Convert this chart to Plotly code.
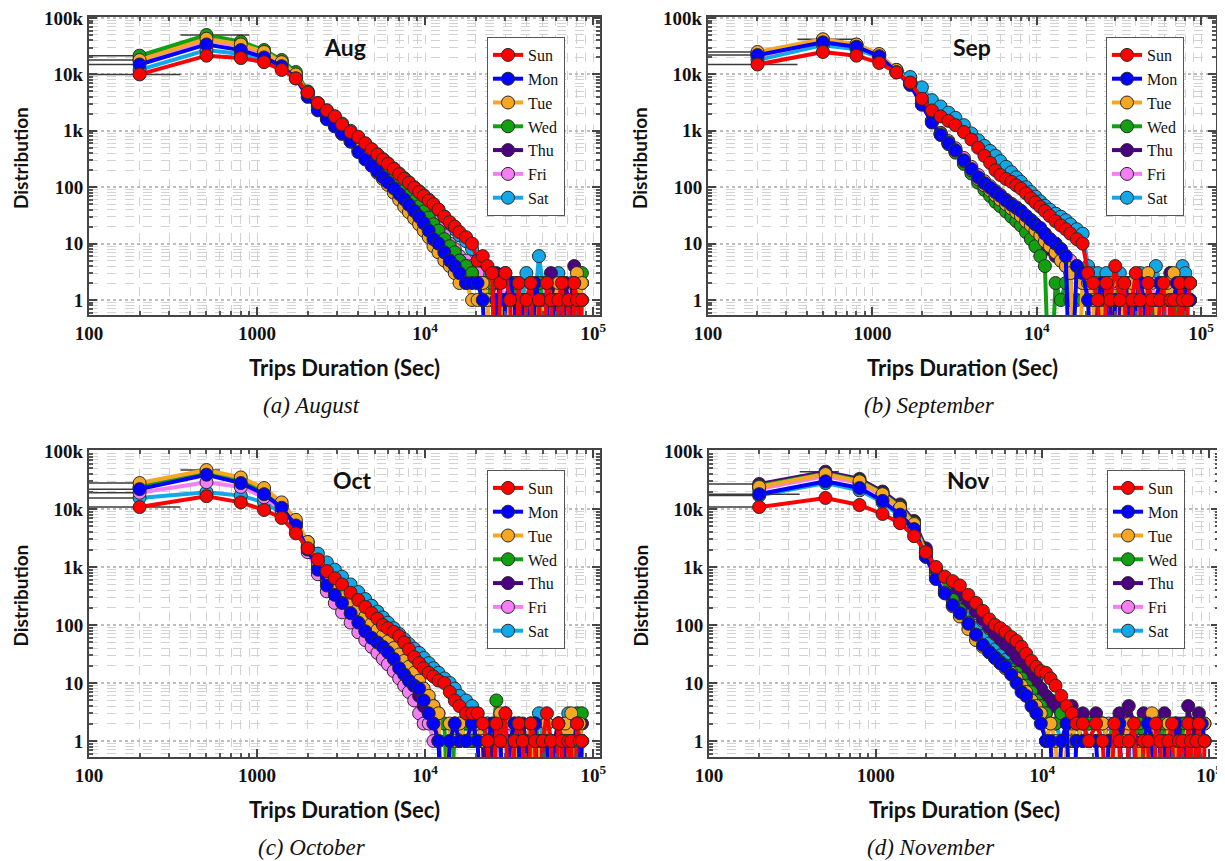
import plotly.graph_objects as go

DAYS = ["Sun", "Mon", "Tue", "Wed", "Thu", "Fri", "Sat"]
COLORS = {"Sun": "#FF0000", "Mon": "#0000FF", "Tue": "#F5A623", "Wed": "#10A010",
          "Thu": "#4B0082", "Fri": "#F57EF5", "Sat": "#12A8E8"}

# bin centres (sec)
X_MAIN = [200, 500, 800, 1100, 1400, 1700, 2000, 2300, 2600, 2900, 3200, 3600, 4000, 4400,
          4800, 5200, 5600, 6000, 6500, 7000, 7500, 8000, 8600, 9200, 9800, 10500, 11200,
          12000, 13000, 14000, 15000, 16000, 17500, 19000]
X_TAIL = [20500, 22000, 23500, 25000, 26500, 28000, 30000, 32000, 34000, 36000, 38000, 40000,
          42500, 45000, 47500, 50000, 53000, 56000, 59000, 62000, 65000, 68000, 71000, 74000,
          77000, 80000, 83000, 85500]
X_TAIL_NOV = [21000, 23000, 25000, 27000, 29000, 31000, 33000, 35500, 38000, 40500, 43000, 45500,
              48000, 51000, 54000, 57000, 60000, 63000, 66000, 69000, 72000, 75000, 78000, 81000,
              84000, 87000, 90500, 94000]

X_TICKS = [100, 1000, 10000, 100000]
X_TICK_TEXT = ["100", "1000", "10<sup>4</sup>", "10<sup>5</sup>"]
Y_TICKS = [1, 10, 100, 1000, 10000, 100000]
Y_TICK_TEXT = ["1", "10", "100", "1k", "10k", "100k"]
X_MINOR = [200, 300, 400, 500, 600, 700, 800, 900, 2000, 3000, 4000, 5000, 6000, 7000, 8000, 9000,
           20000, 30000, 40000, 50000, 60000, 70000, 80000, 90000]
Y_MINOR = [0.6, 0.7, 0.8, 0.9, 2, 3, 4, 5, 6, 7, 8, 9, 20, 30, 40, 50, 60, 70, 80, 90,
           200, 300, 400, 500, 600, 700, 800, 900, 2000, 3000, 4000, 5000, 6000, 7000, 8000, 9000,
           20000, 30000, 40000, 50000, 60000, 70000, 80000, 90000]

# ---------------- August ----------------
AUG_SUN = [10000, 21500, 19500, 16500, 12000, 8500, 4800, 3100, 2300, 1800, 1300, 950, 780, 600,
           470, 380, 310, 260, 210, 170, 140, 120, 98, 82, 70, 58, 50, 40, 30, 24, 20, 16, 13, 10,
           5, 6, 4, 3, 0, 2, 3, 1, 0, 2, 0, 1, 2, 0, 1, 0, 2, 1, 0, 1, 2, 0, 1, 0, 2, 1, 0, 1]
AUG_MON = [15000, 34000, 27000, 20000, 14000, 8500, 4000, 2300, 1600, 1200, 900, 650, 420, 310,
           240, 190, 150, 122, 96, 76, 61, 49, 38, 30, 23, 17, 12, 10, 7, 5, 4, 3, 2, 2,
           2, 1, 0, 0, 1, 0, 1, 2, 1, 0, 1, 1, 0, 2, 1, 0, 1, 0, 1, 1, 0, 1, 0, 1, 2, 0, 1, 1]
AUG_TUE = [18000, 43000, 34000, 25000, 16500, 10000, 4500, 2400, 1650, 1200, 880, 640, 470, 350,
           270, 180, 140, 110, 80, 60, 45, 36, 28, 22, 17, 13, 9, 7, 5, 4, 3, 2, 2, 1,
           1, 2, 1, 0, 1, 1, 0, 2, 1, 1, 0, 1, 2, 0, 1, 1, 0, 1, 1, 2, 0, 1, 1, 0, 1, 3, 1, 2]
AUG_WED = [21500, 50000, 38000, 27000, 18000, 11000, 5000, 2700, 1900, 1400, 1050, 780, 580, 440,
           340, 270, 215, 175, 138, 110, 88, 72, 57, 46, 37, 29, 22, 17, 12, 9, 7, 5, 4, 3,
           2, 1, 1, 2, 0, 1, 1, 1, 2, 0, 1, 1, 0, 1, 2, 1, 1, 0, 1, 1, 2, 0, 1, 1, 1, 2, 1, 3]
AUG_THU = [19000, 44000, 35000, 25000, 17000, 10000, 4700, 2600, 1800, 1350, 1000, 740, 550, 420,
           320, 250, 200, 162, 128, 102, 82, 66, 52, 42, 34, 27, 20, 15, 11, 8, 6, 5, 4, 3,
           2, 2, 1, 1, 3, 1, 0, 1, 2, 1, 1, 0, 1, 1, 2, 0, 1, 3, 1, 1, 0, 2, 1, 1, 4, 1, 1, 2]
AUG_FRI = [17000, 40000, 32000, 23000, 15500, 9500, 4600, 2700, 1900, 1450, 1100, 820, 610, 470,
           360, 285, 230, 185, 148, 118, 95, 78, 62, 50, 41, 32, 25, 19, 14, 10, 8, 6, 5, 4,
           3, 2, 2, 1, 1, 2, 1, 2, 1, 1, 0, 1, 2, 1, 1, 1, 2, 0, 1, 1, 2, 1, 1, 2, 1, 1, 3, 1]
AUG_SAT = [12000, 27000, 23000, 18500, 13000, 8800, 4900, 3100, 2300, 1800, 1350, 1000, 760, 590,
           470, 380, 315, 265, 215, 175, 145, 122, 100, 85, 72, 60, 50, 40, 30, 23, 18, 14, 11, 8,
           5, 4, 3, 3, 2, 2, 3, 2, 1, 2, 1, 3, 2, 1, 6, 2, 1, 2, 1, 3, 1, 2, 1, 1, 2, 1, 1, 2]

# ---------------- September ----------------
SEP_SUN = [15000, 25000, 21500, 16000, 10800, 7200, 3700, 2300, 1800, 1500, 1260, 950, 700, 500,
           360, 270, 200, 165, 140, 125, 108, 95, 78, 64, 54, 45, 38, 31, 25, 21, 18, 15, 12, 10,
           3, 2, 1, 0, 2, 1, 4, 1, 2, 0, 1, 3, 1, 0, 2, 1, 0, 1, 2, 0, 1, 1, 0, 2, 1, 0, 1, 2]
SEP_MON = [22000, 37000, 31000, 21000, 11000, 6500, 2900, 1400, 850, 600, 450, 300, 210, 150,
           118, 98, 82, 70, 58, 49, 43, 38, 31, 26, 22, 19, 15, 12, 10, 8, 6, 0, 4, 3,
           1, 0, 1, 2, 1, 0, 1, 1, 2, 1, 0, 1, 2, 1, 0, 1, 1, 2, 1, 0, 1, 1, 2, 1, 0, 1, 2, 1]
SEP_TUE = [25000, 42000, 34000, 23000, 12000, 7000, 3100, 1500, 900, 620, 450, 290, 200, 140,
           108, 88, 72, 60, 50, 42, 36, 31, 25, 21, 17, 14, 11, 9, 7, 5, 4, 3, 0, 2,
           2, 1, 0, 1, 1, 2, 1, 0, 1, 1, 2, 1, 0, 1, 3, 1, 1, 0, 1, 2, 1, 3, 1, 1, 0, 1, 1, 2]
SEP_WED = [23000, 40000, 33000, 22000, 11500, 6800, 3000, 1450, 850, 580, 410, 260, 175, 120,
           90, 70, 55, 46, 37, 30, 25, 21, 16, 12, 9, 6, 4, 0, 2, 1, 2, 1, 1, 1,
           1, 1, 2, 0, 1, 1, 1, 2, 1, 0, 1, 1, 2, 1, 1, 0, 1, 1, 2, 1, 1, 0, 1, 2, 1, 1, 1, 1]
SEP_THU = [24000, 41000, 33500, 22500, 11800, 6900, 3050, 1480, 880, 610, 440, 285, 195, 135,
           102, 82, 67, 56, 46, 39, 33, 28, 23, 19, 16, 13, 10, 8, 6, 5, 4, 3, 3, 2,
           2, 1, 1, 1, 2, 1, 0, 1, 1, 2, 1, 1, 1, 0, 2, 1, 1, 1, 2, 1, 3, 1, 1, 1, 2, 1, 1, 1]
SEP_FRI = [21000, 38000, 31500, 21500, 11300, 6700, 3000, 1500, 920, 660, 490, 330, 230, 165,
           128, 104, 86, 73, 60, 51, 44, 38, 31, 26, 22, 18, 15, 12, 10, 8, 6, 5, 4, 3,
           1, 2, 1, 1, 0, 1, 2, 1, 1, 1, 2, 0, 1, 1, 1, 2, 1, 1, 0, 1, 2, 1, 1, 1, 1, 2, 1, 1]
SEP_SAT = [18000, 33000, 28000, 20000, 12000, 9000, 5900, 3500, 2700, 2100, 1700, 1260, 900, 680,
           540, 440, 360, 290, 230, 185, 150, 125, 100, 82, 68, 56, 47, 40, 34, 30, 26, 22, 18, 15,
           4, 3, 3, 2, 3, 2, 2, 3, 1, 2, 2, 1, 3, 2, 2, 1, 4, 2, 1, 2, 3, 2, 1, 2, 4, 3, 1, 2]

# ---------------- October ----------------
OCT_SUN = [10800, 16600, 13000, 9600, 7000, 3800, 2100, 1350, 850, 640, 500, 360, 270, 205,
           160, 128, 100, 88, 76, 64, 50, 38, 28, 22, 18, 15, 13, 11, 10, 7, 5, 4, 3, 3,
           3, 2, 1, 0, 2, 1, 3, 0, 1, 2, 1, 0, 2, 1, 0, 1, 3, 1, 0, 2, 1, 0, 1, 1, 0, 2, 1, 1]
OCT_MON = [22000, 39000, 28000, 18000, 10500, 5200, 2000, 900, 480, 330, 240, 160, 110, 78,
           60, 50, 42, 34, 26, 18, 14, 11, 9, 8, 5, 3, 2, 1, 0, 1, 2, 1, 1, 2,
           1, 0, 1, 2, 1, 1, 0, 1, 2, 1, 0, 1, 1, 2, 0, 1, 1, 0, 1, 2, 1, 1, 0, 1, 1, 2, 0, 1]
OCT_TUE = [28000, 47000, 35000, 23000, 13000, 6500, 2700, 1200, 700, 480, 360, 260, 190, 140,
           105, 82, 65, 52, 40, 31, 24, 19, 15, 11, 8, 6, 4, 3, 0, 2, 1, 2, 1, 2,
           2, 1, 1, 0, 1, 3, 1, 1, 0, 2, 1, 1, 2, 0, 1, 1, 2, 1, 0, 1, 1, 2, 1, 3, 0, 1, 2, 1]
OCT_WED = [24000, 42000, 31000, 20000, 11500, 5800, 2300, 1050, 600, 420, 310, 220, 160, 118,
           90, 70, 56, 45, 35, 27, 21, 16, 12, 9, 7, 5, 4, 3, 2, 0, 2, 1, 2, 1,
           1, 2, 1, 1, 5, 1, 0, 1, 2, 1, 1, 0, 1, 2, 1, 1, 0, 1, 1, 2, 1, 1, 1, 0, 1, 3, 1, 3]
OCT_THU = [23000, 40000, 30000, 19500, 11000, 5600, 2200, 1000, 560, 390, 285, 200, 140, 102,
           78, 60, 47, 37, 28, 21, 16, 12, 9, 6, 4, 3, 2, 1, 0, 1, 2, 1, 1, 1,
           2, 1, 0, 1, 1, 2, 1, 1, 0, 1, 2, 1, 1, 1, 0, 1, 2, 1, 1, 0, 1, 1, 2, 1, 1, 0, 1, 2]
OCT_FRI = [19000, 29000, 24000, 16000, 9500, 4800, 1800, 750, 380, 240, 165, 110, 75, 55,
           42, 33, 26, 21, 16, 12, 9, 7, 5, 3, 2, 2, 1, 1, 0, 1, 1, 2, 1, 1,
           1, 1, 2, 1, 0, 1, 1, 2, 1, 1, 0, 1, 1, 2, 1, 0, 1, 1, 1, 2, 1, 1, 0, 1, 2, 1, 1, 2]
OCT_SAT = [15500, 19500, 17000, 13000, 8500, 4800, 2700, 1700, 1200, 900, 680, 500, 370, 280,
           215, 170, 135, 110, 88, 70, 57, 47, 39, 33, 27, 22, 18, 15, 12, 10, 8, 6, 5, 4,
           3, 2, 2, 1, 2, 1, 3, 2, 1, 2, 1, 1, 2, 1, 3, 1, 2, 1, 1, 2, 1, 2, 3, 1, 1, 2, 1, 1]

# ---------------- November ----------------
NOV_SUN = [10800, 15500, 11700, 8200, 5700, 3400, 1800, 1000, 680, 570, 480, 330, 240, 175,
           125, 100, 88, 76, 62, 53, 42, 32, 24, 19, 16, 15, 12, 9, 6, 4, 3, 2, 2, 1,
           2, 1, 0, 2, 1, 0, 1, 2, 0, 1, 1, 0, 2, 1, 0, 1, 2, 0, 1, 1, 0, 2, 1, 0, 1, 2, 0, 1]
NOV_MON = [18000, 30000, 23000, 13800, 8000, 4500, 1500, 620, 350, 220, 160, 105, 68, 45,
           34, 27, 22, 19, 14, 10, 7, 6, 4, 3, 2, 1, 1, 0, 1, 2, 0, 1, 1, 1,
           1, 0, 1, 1, 2, 0, 1, 1, 0, 1, 2, 1, 0, 1, 1, 0, 1, 2, 1, 0, 1, 1, 1, 0, 1, 1, 2, 1]
NOV_TUE = [24000, 40000, 30000, 18000, 10500, 5500, 1700, 680, 360, 210, 140, 85, 55, 42,
           34, 27, 22, 18, 15, 12, 9, 7, 5, 4, 3, 1, 2, 1, 0, 1, 2, 1, 2, 1,
           1, 2, 1, 0, 1, 1, 2, 1, 1, 0, 1, 3, 1, 1, 0, 2, 1, 1, 0, 1, 1, 2, 1, 1, 0, 1, 1, 2]
NOV_WED = [25000, 41000, 31000, 18500, 11000, 5800, 1800, 750, 420, 270, 180, 110, 68, 44,
           34, 28, 23, 20, 17, 15, 12, 9, 7, 5, 4, 3, 2, 2, 3, 2, 1, 2, 1, 2,
           2, 1, 1, 2, 1, 0, 1, 1, 2, 1, 1, 1, 0, 1, 2, 1, 1, 0, 1, 1, 2, 1, 0, 1, 1, 1, 2, 1]
NOV_THU = [27000, 44000, 33000, 20000, 12000, 6200, 2100, 900, 560, 420, 330, 240, 170, 125,
           92, 72, 58, 47, 37, 28, 22, 17, 13, 10, 8, 6, 5, 4, 3, 3, 4, 2, 3, 2,
           3, 2, 1, 2, 3, 1, 4, 2, 1, 3, 2, 1, 2, 1, 3, 2, 1, 2, 1, 2, 1, 4, 2, 1, 2, 3, 1, 2]
NOV_FRI = [22000, 37000, 28000, 17000, 10000, 5300, 1900, 850, 540, 400, 310, 225, 160, 118,
           88, 70, 57, 47, 38, 30, 24, 18, 14, 11, 8, 6, 5, 4, 3, 2, 3, 2, 2, 1,
           2, 1, 2, 1, 1, 3, 1, 2, 1, 1, 2, 1, 1, 2, 1, 1, 1, 2, 1, 1, 2, 1, 1, 1, 2, 1, 1, 1]
NOV_SAT = [17000, 28000, 21000, 13000, 7500, 4200, 1500, 650, 380, 260, 190, 130, 90, 65,
           48, 38, 30, 25, 20, 15, 12, 9, 7, 5, 4, 3, 2, 2, 1, 2, 1, 1, 2, 1,
           1, 2, 1, 1, 2, 1, 1, 0, 1, 2, 1, 1, 1, 2, 1, 0, 1, 1, 2, 1, 1, 1, 2, 1, 0, 1, 1, 1]

# horizontal error-bar spans (sec) seen on the first bin: month -> {day_index: (minus, plus)}
ERR_FIRST = {
    "Aug": {0: (150, 150), 1: (150, 0), 2: (150, 0), 3: (150, 0)},
    "Sep": {0: (150, 150), 1: (150, 0), 2: (150, 0)},
    "Oct": {0: (150, 150), 1: (150, 0), 2: (150, 0), 5: (150, 0), 6: (150, 0)},
    "Nov": {0: (150, 0), 1: (150, 150), 4: (150, 0), 6: (150, 0)},
}
# one long bar at the peak bin: (day_index, minus, plus)
ERR_PEAK = {"Aug": (3, 150, 400), "Sep": (2, 150, 300), "Oct": (2, 150, 100), "Nov": (4, 150, 100)}

MONTHS = [
    ("Aug", "(a) August", X_MAIN + X_TAIL,
     [AUG_SUN, AUG_MON, AUG_TUE, AUG_WED, AUG_THU, AUG_FRI, AUG_SAT]),
    ("Sep", "(b) September", X_MAIN + X_TAIL,
     [SEP_SUN, SEP_MON, SEP_TUE, SEP_WED, SEP_THU, SEP_FRI, SEP_SAT]),
    ("Oct", "(c) October", X_MAIN + X_TAIL,
     [OCT_SUN, OCT_MON, OCT_TUE, OCT_WED, OCT_THU, OCT_FRI, OCT_SAT]),
    ("Nov", "(d) November", X_MAIN + X_TAIL_NOV,
     [NOV_SUN, NOV_MON, NOV_TUE, NOV_WED, NOV_THU, NOV_FRI, NOV_SAT]),
]

OFF = 8  # page body margin
W, H = 1225 - OFF, 861 - OFF
ZERO_FLOOR = 0.01  # empty bins (log of 0) drawn as a drop below the axis


def px(x):
    return (x - OFF) / W


def py(y):
    return 1 - (y - OFF) / H


# panel geometry in page pixels: (left, right, top, bottom, xmax_log, ymin_log, ymax_log)
PANELS = [
    (89, 600, 17, 315, 5.04, -0.266, 5.018),
    (708, 1216, 17, 315, 5.09, -0.266, 5.018),
    (89, 600, 450, 757, 5.04, -0.276, 5.017),
    (709, 1219, 450, 757, 5.06, -0.276, 5.017),
]
TITLE_DX = [256, 264, 263, 259]

fig = go.Figure()
layout = dict(width=W, height=H, margin=dict(l=0, r=0, t=0, b=0, autoexpand=False),
              paper_bgcolor="white", plot_bgcolor="white", showlegend=True)

tick_font = dict(family="Liberation Serif", size=19, color="#111", weight="bold")
grid_col = "#d2d2d2"
annotations = []


def note(text, x, y, font, angle=0):
    return dict(text=text, x=px(x), y=py(y), xref="paper", yref="paper", showarrow=False,
                xanchor="center", yanchor="middle", textangle=angle, font=font)


for i, (abbr, caption, xs, series) in enumerate(MONTHS):
    n = "" if i == 0 else str(i + 1)
    left, right, top, bottom, xmax, ymin, ymax = PANELS[i]
    leg = "legend" if i == 0 else "legend" + n
    order = list(range(7))[::-1]  # Sat ... Sun, Sun drawn on top
    for k in order:
        day = DAYS[k]
        ys = [v if v > 0 else ZERO_FLOOR for v in series[k]]
        minus = [0] * len(xs)
        plus = [0] * len(xs)
        if k in ERR_FIRST[abbr]:
            minus[0], plus[0] = ERR_FIRST[abbr][k]
        pk = ERR_PEAK[abbr]
        if pk[0] == k:
            minus[1], plus[1] = pk[1], pk[2]
        fig.add_trace(go.Scatter(
            x=xs, y=ys, name=day, mode="lines+markers",
            xaxis="x" + n, yaxis="y" + n, legend=leg,
            line=dict(color=COLORS[day], width=4),
            marker=dict(color=COLORS[day], size=13, line=dict(color="#2a2a2a", width=1)),
            error_x=dict(type="data", symmetric=False, array=plus, arrayminus=minus,
                         color="#3a3a3a", thickness=1.5, width=0),
        ))
    layout["xaxis" + n] = dict(
        type="log", range=[2, xmax], domain=[px(left), px(right)], anchor="y" + n,
        tickmode="array", tickvals=X_TICKS, ticktext=X_TICK_TEXT, automargin=False,
        ticklabeloverflow="allow",
        tickfont=tick_font, ticks="inside", ticklen=8, tickcolor="#444", tickwidth=1.5,
        showline=True, linecolor="#444", linewidth=2, mirror="ticks",
        showgrid=True, gridcolor=grid_col, griddash="dash", gridwidth=1,
        minor=dict(tickmode="array", tickvals=X_MINOR, ticks="inside", ticklen=4, tickcolor="#555",
                   showgrid=True, gridcolor=grid_col, griddash="dash", gridwidth=1),
        zeroline=False,
    )
    layout["yaxis" + n] = dict(
        type="log", range=[ymin, ymax], domain=[py(bottom), py(top)], anchor="x" + n,
        tickmode="array", tickvals=Y_TICKS, ticktext=Y_TICK_TEXT, automargin=False,
        ticklabeloverflow="allow",
        tickfont=tick_font, ticks="inside", ticklen=8, tickcolor="#444", tickwidth=1.5,
        showline=True, linecolor="#444", linewidth=2, mirror="ticks",
        showgrid=True, gridcolor="#bdbdbd", griddash="dot", gridwidth=1.5,
        minor=dict(tickmode="array", tickvals=Y_MINOR, ticks="inside", ticklen=4, tickcolor="#555",
                   showgrid=True, gridcolor=grid_col, griddash="dash", gridwidth=1),
        zeroline=False,
    )
    layout[leg] = dict(
        x=px(left + 398), y=py(top + 20), xanchor="left", yanchor="top",
        traceorder="reversed", bgcolor="white", bordercolor="#555", borderwidth=1,
        font=dict(family="Liberation Serif", size=16, color="#111"),
        itemwidth=30, tracegroupgap=0,
    )
    cx = (left + right) / 2
    annotations.append(note(abbr, left + TITLE_DX[i], top + 30,
                            dict(family="Lato", size=23, color="#111", weight="bold")))
    annotations.append(note("Trips Duration (Sec)", cx, bottom + 52,
                            dict(family="Lato", size=22, color="#111", weight="bold")))
    annotations.append(note("Distribution", left - 69, (top + bottom) / 2 - 8,
                            dict(family="Lato", size=19, color="#111", weight="bold"), angle=-90))
    annotations.append(note("<i>" + caption + "</i>", cx - 33, bottom + 90,
                            dict(family="Liberation Serif", size=23, color="#111")))

layout["annotations"] = annotations
fig.update_layout(**layout)
fig.write_html("out.html")
